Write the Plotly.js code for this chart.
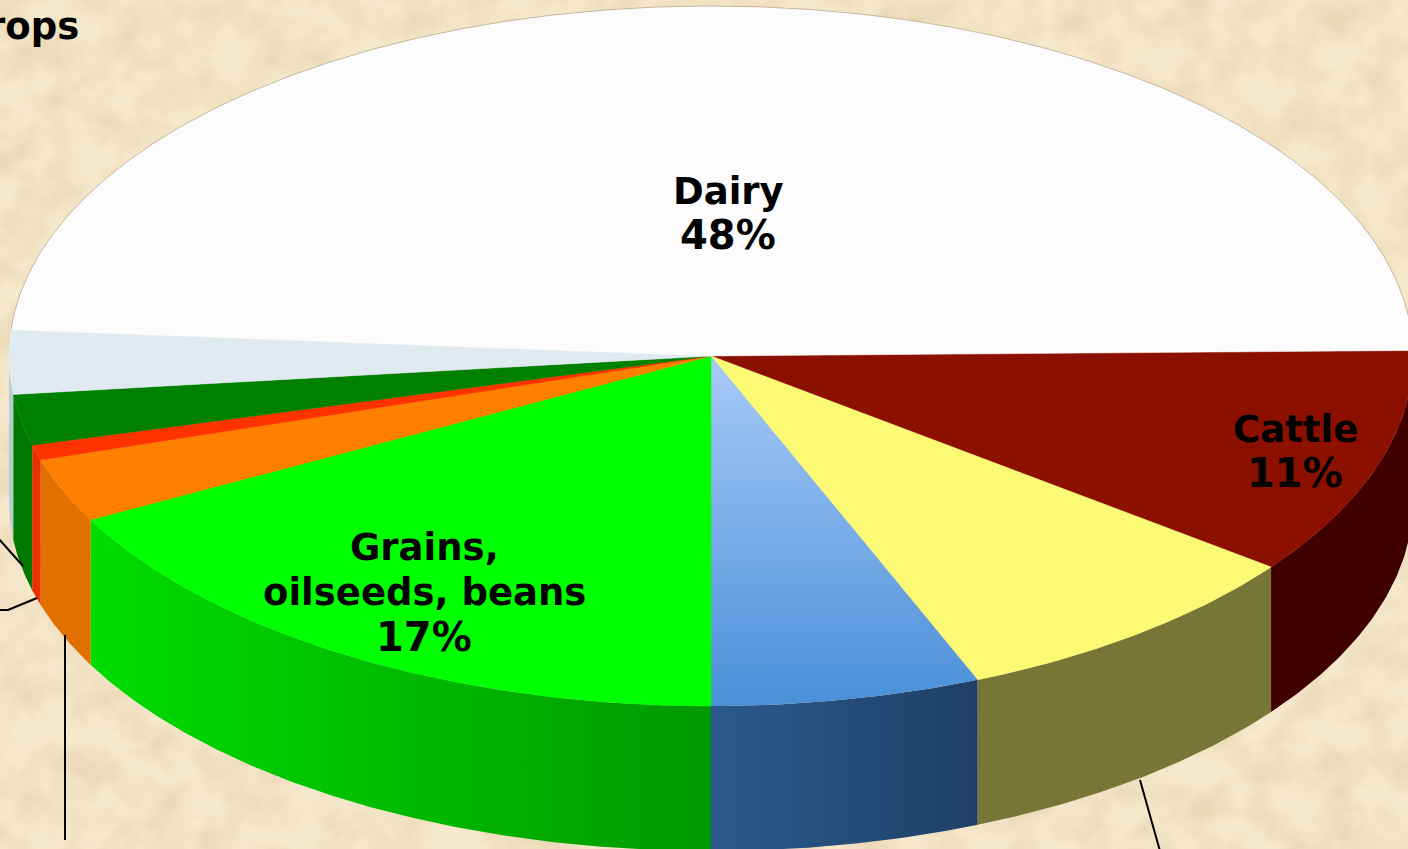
<!DOCTYPE html>
<html><head><meta charset="utf-8">
<script src="https://cdn.plot.ly/plotly-3.0.1.min.js"></script>
<style>
html,body{margin:0;padding:0;width:1408px;height:849px;overflow:hidden;background-color:#f3e4c8;}
#tex{position:absolute;left:0;top:0;width:1408px;height:849px;}
#chart{position:absolute;left:0;top:0;width:1408px;height:849px;}
</style></head><body>
<svg id="tex" xmlns="http://www.w3.org/2000/svg" width="1408" height="849">
<filter id="p1" x="0" y="0" width="100%" height="100%"><feTurbulence type="fractalNoise" baseFrequency="0.028" numOctaves="5" seed="11"/>
<feGaussianBlur stdDeviation="0.8"/>
<feColorMatrix type="matrix" values="0 0 0 0 0.78  0 0 0 0 0.64  0 0 0 0 0.42  1.4 0 0 0 -0.48"/></filter>
<rect width="1408" height="849" fill="#f6e8cb"/>
<rect width="1408" height="849" filter="url(#p1)"/>
</svg>
<div id="chart"></div>
<script>
// Values (share of the whole, percent), clockwise from the right edge
const categories = ["Cattle","Other A","Other B","Grains, oilseeds, beans","Other C","Other D","Other E","Other F","Dairy"];
const shares     = [10.55, 8.5, 6.2, 17.25, 2.95, 0.7, 2.35, 2.95, 48.55];
const topColors  = ["#8c1000","#fcf974",null,"#00ff00","#ff8000","#ff3300","#008000","#dfebf0","#fcfcfc"];
const sideColors = ["#400000","#787636",null,null,"#e07000","#e83000","#007800","#b8ccd8","#808080"];
const labelLines = ["Cattle","11%","Grains,","oilseeds, beans","17%","Dairy","48%"];
const labelX     = [1295,1295,424,424,424,728,728];
const labelY     = [429,473,547,592,637,191,235];
const labelSizes = [37,40,37,37,40,37,40];
const leaderX    = [[-2,23],[-2,8,37],[65,65],[1140,1160]];
const leaderY    = [[538,566],[610,610,598],[635,840],[780,851]];

const cx=711, cy=356, rx=702, ry=350, depth=145, startDeg=-0.9;
const rad=d=>d*Math.PI/180;
const px=a=>cx+rx*Math.cos(rad(a));
const py=a=>cy+ry*Math.sin(rad(a));
function arc(a,b){const n=Math.max(2,Math.ceil(Math.abs(b-a)*2));const o=[];for(let i=0;i<=n;i++)o.push(a+(b-a)*i/n);return o;}

let edges=[startDeg]; shares.forEach(s=>edges.push(edges[edges.length-1]+s*3.6));
const traces=[];
// side walls (front half only)
shares.forEach((s,i)=>{
  const a=Math.max(edges[i],0), b=Math.min(edges[i+1],180);
  if(b<=a) return;
  const A=arc(a,b);
  const x=A.map(px).concat(A.slice().reverse().map(px)); x.push(x[0]);
  const y=A.map(py).concat(A.slice().reverse().map(t=>py(t)+depth)); y.push(y[0]);
  const t={x,y,mode:'lines',fill:'toself',line:{width:0},hoverinfo:'skip',showlegend:false,name:categories[i]};
  if(i===3){t.fillgradient={type:'horizontal',colorscale:[[0,'#00dd00'],[1,'#009800']]};}
  else if(i===2){t.fillgradient={type:'horizontal',colorscale:[[0,'#2b5a8c'],[1,'#1f3f66']]};}
  else {t.fillcolor=sideColors[i];}
  traces.push(t);
});
// top faces
shares.forEach((s,i)=>{
  const A=arc(edges[i],edges[i+1]);
  const x=[cx].concat(A.map(px),[cx]);
  const y=[cy].concat(A.map(py),[cy]);
  const t={x,y,mode:'lines',fill:'toself',hoverinfo:'skip',showlegend:false,name:categories[i]};
  if(i===2){t.line={width:0};t.fillgradient={type:'vertical',colorscale:[[0,'#4a8fd8'],[1,'#a8caf8']]};}
  else {t.line={width:0.5,color:topColors[i]};t.fillcolor=topColors[i];}
  traces.push(t);
});
// thin rim on the big slice
{const A=arc(edges[8],edges[9]);
 traces.push({x:A.map(px),y:A.map(py),mode:'lines',line:{width:0.8,color:'#b5a486'},hoverinfo:'skip',showlegend:false});}
// leader lines
leaderX.forEach((lx,i)=>traces.push({x:lx,y:leaderY[i],mode:'lines',line:{width:2,color:'#000'},hoverinfo:'skip',showlegend:false}));

const fontOf=s=>({family:'"DejaVu Sans",sans-serif',size:s,color:'#000',weight:700});
const anns=labelLines.map((t,i)=>({x:labelX[i],y:labelY[i],xref:'x',yref:'y',text:'<b>'+t+'</b>',showarrow:false,font:fontOf(labelSizes[i]),align:'center',xanchor:'center',yanchor:'middle'}));
anns.push({x:81,y:26,xref:'x',yref:'y',text:'<b>rops</b>',showarrow:false,font:fontOf(37),xanchor:'right',yanchor:'middle'});
const layout={width:1408,height:849,margin:{l:0,r:0,t:0,b:0},paper_bgcolor:'rgba(0,0,0,0)',plot_bgcolor:'rgba(0,0,0,0)',showlegend:false,
 xaxis:{range:[0,1408],visible:false,fixedrange:true},
 yaxis:{range:[849,0],visible:false,fixedrange:true},annotations:anns};
Plotly.newPlot('chart',traces,layout,{displayModeBar:false,staticPlot:true});
</script></body></html>
